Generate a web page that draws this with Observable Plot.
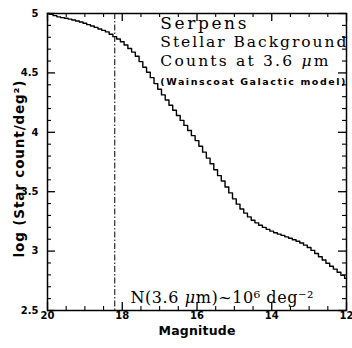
<!DOCTYPE html>
<html>
<head>
<meta charset="utf-8">
<script src="https://cdn.jsdelivr.net/npm/d3@7"></script>
<script src="https://cdn.jsdelivr.net/npm/@observablehq/plot@0.6"></script>
<style>
  html, body { margin: 0; padding: 0; background: #fff; }
</style>
</head>
<body>
<div id="chart"></div>
<script>
// Magnitude bins (0.1 mag)
const magnitudes = [20.0, 19.9, 19.8, 19.7, 19.6, 19.5, 19.4, 19.3, 19.2, 19.1,
  19.0, 18.9, 18.8, 18.7, 18.6, 18.5, 18.4, 18.3, 18.2, 18.1,
  18.0, 17.9, 17.8, 17.7, 17.6, 17.5, 17.4, 17.3, 17.2, 17.1,
  17.0, 16.9, 16.8, 16.7, 16.6, 16.5, 16.4, 16.3, 16.2, 16.1,
  16.0, 15.9, 15.8, 15.7, 15.6, 15.5, 15.4, 15.3, 15.2, 15.1,
  15.0, 14.9, 14.8, 14.7, 14.6, 14.5, 14.4, 14.3, 14.2, 14.1,
  14.0, 13.9, 13.8, 13.7, 13.6, 13.5, 13.4, 13.3, 13.2, 13.1,
  13.0, 12.9, 12.8, 12.7, 12.6, 12.5, 12.4, 12.3, 12.2, 12.1, 12.0];
// log (Star count / deg^2)
const logCounts = [5.000, 4.993, 4.982, 4.972, 4.965, 4.960, 4.953, 4.945, 4.937, 4.928,
  4.918, 4.906, 4.895, 4.883, 4.870, 4.858, 4.845, 4.825, 4.805, 4.785,
  4.762, 4.735, 4.706, 4.675, 4.640, 4.595, 4.548, 4.505, 4.460, 4.410,
  4.362, 4.315, 4.272, 4.228, 4.185, 4.142, 4.100, 4.058, 4.015, 3.972,
  3.930, 3.882, 3.833, 3.783, 3.735, 3.685, 3.635, 3.590, 3.540, 3.490,
  3.440, 3.395, 3.355, 3.320, 3.288, 3.260, 3.238, 3.218, 3.200, 3.183,
  3.168, 3.155, 3.143, 3.132, 3.120, 3.108, 3.096, 3.083, 3.068, 3.050,
  3.030, 3.006, 2.980, 2.952, 2.925, 2.898, 2.872, 2.848, 2.822, 2.796, 2.770];
// completeness limit (dash-dot line)
const cutoff = [18.2];

const xMajor = [20, 18, 16, 14, 12];
const xMinor = [19.5, 19, 18.5, 17.5, 17, 16.5, 15.5, 15, 14.5, 13.5, 13, 12.5];
const yMajor = [2.5, 3, 3.5, 4, 4.5, 5];
const yMinor = [2.6, 2.7, 2.8, 2.9, 3.1, 3.2, 3.3, 3.4, 3.6, 3.7, 3.8, 3.9,
  4.1, 4.2, 4.3, 4.4, 4.6, 4.7, 4.8, 4.9];

const titleLine = ["Serpens"];
const subLines = ["Stellar Background"];
const countsLine = ["Counts at 3.6 μm"];
const modelLine = ["(Wainscoat Galactic model)"];
const densityLine = ["N(3.6 μm)~10⁶ deg⁻²"];
const xLabel = ["Magnitude"];
const yLabel = ["log (Star count/deg²)"];

const data = magnitudes.map((m, i) => ({mag: m, logN: logCounts[i]}));

const W = 352, H = 348;
const mL = 47, mR = 6, mT = 13, mB = 38;
const pw = W - mL - mR, ph = H - mT - mB;
const bigT = 8, smallT = 4;
const serif = "DejaVu Serif";
const sansB = "DejaVu Sans";

function ticks(values, len, sw) {
  return [
    Plot.tickX(values, {x: d => d, insetTop: ph - len, stroke: "#000", strokeWidth: sw}),
    Plot.tickX(values, {x: d => d, insetBottom: ph - len, stroke: "#000", strokeWidth: sw})
  ];
}
function ticksY(values, len, sw) {
  return [
    Plot.tickY(values, {y: d => d, insetRight: pw - len, stroke: "#000", strokeWidth: sw}),
    Plot.tickY(values, {y: d => d, insetLeft: pw - len, stroke: "#000", strokeWidth: sw})
  ];
}

const svg = Plot.plot({
  width: W,
  height: H,
  marginLeft: mL,
  marginRight: mR,
  marginTop: mT,
  marginBottom: mB,
  style: {background: "#fff", color: "#000", overflow: "visible"},
  x: {domain: [20, 12], axis: null},
  y: {domain: [2.5, 5], axis: null},
  marks: [
    Plot.frame({stroke: "#000", strokeWidth: 1.5}),
    ...ticks(xMajor, bigT, 1.3),
    ...ticks(xMinor, smallT, 1.1),
    ...ticksY(yMajor, bigT, 1.3),
    ...ticksY(yMinor, smallT, 1.1),
    Plot.axisX({ticks: xMajor, tickSize: 0, tickPadding: 1, tickFormat: d => String(d),
      fontFamily: sansB, fontWeight: "bold", fontSize: 10, label: null}),
    Plot.axisY({ticks: yMajor, tickSize: 0, tickPadding: 9, tickFormat: d => String(d),
      fontFamily: sansB, fontWeight: "bold", fontSize: 10, label: null}),
    Plot.ruleX(cutoff, {x: d => d, stroke: "#000", strokeWidth: 1, strokeDasharray: "6,2,1.5,2"}),
    Plot.line(data, {x: "mag", y: "logN", curve: "step", stroke: "#000", strokeWidth: 1.4}),
    Plot.text(titleLine, {x: 16.98, y: 4.872, text: d => d, textAnchor: "start", lineAnchor: "bottom",
      fontFamily: serif, fontSize: 17}),
    Plot.text(subLines, {x: 16.98, y: 4.722, text: d => d, textAnchor: "start", lineAnchor: "bottom",
      fontFamily: serif, fontSize: 15.5}),
    Plot.text(countsLine, {x: 16.98, y: 4.554, text: d => d, textAnchor: "start", lineAnchor: "bottom",
      fontFamily: serif, fontSize: 15.5}),
    Plot.text(modelLine, {x: 16.98, y: 4.402, text: d => d, textAnchor: "start", lineAnchor: "bottom",
      fontFamily: sansB, fontWeight: "bold", fontSize: 9.5}),
    Plot.text(densityLine, {x: 17.78, y: 2.567, text: d => d, textAnchor: "start", lineAnchor: "bottom",
      fontFamily: serif, fontSize: 16}),
    Plot.text(xLabel, {frameAnchor: "bottom", dy: 24, textAnchor: "middle", lineAnchor: "bottom", text: d => d,
      fontFamily: sansB, fontWeight: "bold", fontSize: 12.5}),
    Plot.text(yLabel, {frameAnchor: "left", dx: -28, dy: 7, rotate: -90, textAnchor: "middle",
      lineAnchor: "middle", text: d => d,
      fontFamily: sansB, fontWeight: "bold", fontSize: 13.5})
  ]
});

// fit annotation widths to the reference and italicise the mu
const fits = {
  "Serpens": 86,
  "Stellar Background": 186,
  "Counts at 3.6 μm": 168,
  "(Wainscoat Galactic model)": 185,
  "N(3.6 μm)~10⁶ deg⁻²": 183,
  "Magnitude": 77,
  "log (Star count/deg²)": 177
};
d3.select(svg).selectAll("text").each(function() {
  const t = this.textContent;
  if (fits[t] !== undefined) {
    this.setAttribute("textLength", fits[t]);
    this.setAttribute("lengthAdjust", "spacing");
    if (t.includes("μ")) {
      const parts = t.split("μ");
      const el = d3.select(this);
      el.text(null);
      el.append("tspan").text(parts[0]);
      el.append("tspan").attr("font-style", "italic").text("μ");
      el.append("tspan").text(parts[1]);
    }
  }
});

document.getElementById("chart").appendChild(svg);
</script>
</body>
</html>
